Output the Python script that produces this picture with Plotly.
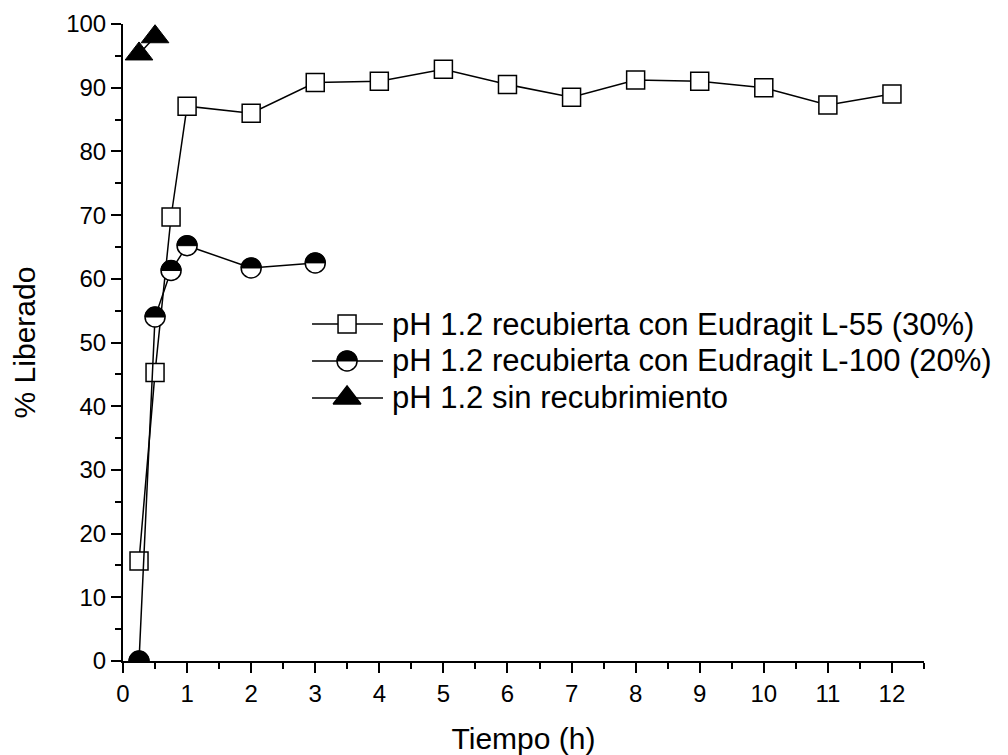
import plotly.graph_objects as go

# ---- data ----
t_l55 = [0.25, 0.5, 0.75, 1, 2, 3, 4, 5, 6, 7, 8, 9, 10, 11, 12]
y_l55 = [15.7, 45.3, 69.7, 87.1, 86.0, 90.8, 91.0, 92.9, 90.5, 88.5, 91.2, 91.0, 90.0, 87.3, 89.0]
t_l100 = [0.25, 0.5, 0.75, 1, 2, 3]
y_l100 = [0.0, 54.0, 61.3, 65.2, 61.7, 62.5]
t_sin = [0.25, 0.5]
y_sin = [95.3, 98.0]

names = ["pH 1.2 recubierta con Eudragit L-55 (30%)",
         "pH 1.2 recubierta con Eudragit L-100 (20%)",
         "pH 1.2 sin recubrimiento"]
x_ticks = list(range(0, 13))
y_ticks = list(range(0, 101, 10))

FONT = "Liberation Sans, Arial, sans-serif"
R = 10  # half-circle radius in px
k = 0.5523
upper_half = (f"M {-R},0 C {-R},{k*R:.2f} {-k*R:.2f},{R} 0,{R} "
              f"C {k*R:.2f},{R} {R},{k*R:.2f} {R},0 Z")

fig = go.Figure()
line = dict(color="black", width=1.5)
fig.add_trace(go.Scatter(x=t_l55, y=y_l55, mode="lines+markers", line=line,
                         marker=dict(symbol="square", size=18, color="white",
                                     line=dict(color="black", width=1.5)),
                         showlegend=False))
fig.add_trace(go.Scatter(x=t_l100, y=y_l100, mode="lines+markers", line=line,
                         marker=dict(symbol="circle", size=20, color="white",
                                     line=dict(color="black", width=1.5)),
                         showlegend=False))
fig.add_trace(go.Scatter(x=t_sin, y=y_sin, mode="lines+markers", line=line,
                         marker=dict(symbol="triangle-up", size=24, color="black",
                                     line=dict(color="black", width=1)),
                         showlegend=False))

shapes = []
for xv, yv in zip(t_l100, y_l100):
    shapes.append(dict(type="path", xref="x", yref="y", xsizemode="pixel", ysizemode="pixel",
                       xanchor=xv, yanchor=yv, path=upper_half,
                       fillcolor="black", line=dict(color="black", width=1)))

# ---- manual legend (on an overlay axis spanning the plot area) ----
leg_y = [0.529, 0.471, 0.413]
leg_x0, leg_x1, leg_xm, leg_tx = 0.236, 0.3246, 0.2797, 0.333
symbols = [("square", 18, "white"), ("circle", 20, "white"), ("triangle-up", 24, "black")]
for (sym, sz, col), ly, nm in zip(symbols, leg_y, names):
    fig.add_trace(go.Scatter(x=[leg_x0, leg_x1], y=[ly, ly], mode="lines", line=line,
                             xaxis="x2", yaxis="y2", showlegend=False, hoverinfo="skip"))
    fig.add_trace(go.Scatter(x=[leg_xm], y=[ly], mode="markers", xaxis="x2", yaxis="y2",
                             marker=dict(symbol=sym, size=sz, color=col,
                                         line=dict(color="black", width=1.5)),
                             showlegend=False, hoverinfo="skip", cliponaxis=False))
    fig.add_annotation(x=leg_tx, y=ly, xref="x2", yref="y2", text=nm, showarrow=False,
                       xanchor="left", yanchor="middle",
                       font=dict(family=FONT, size=31, color="black"))
shapes.append(dict(type="path", xref="x2", yref="y2", xsizemode="pixel", ysizemode="pixel",
                   xanchor=leg_xm, yanchor=leg_y[1], path=upper_half,
                   fillcolor="black", line=dict(color="black", width=1)))

fig.update_layout(
    width=1008, height=755,
    margin=dict(l=123, r=84, t=24, b=94),
    paper_bgcolor="white", plot_bgcolor="white",
    font=dict(family=FONT, color="black"),
    shapes=shapes,
    xaxis=dict(range=[0, 12.5], tickvals=x_ticks, showgrid=False, zeroline=False,
               showline=True, linecolor="black", linewidth=2, automargin=False,
               ticks="outside", ticklen=10, tickwidth=2, tickcolor="black",
               minor=dict(dtick=0.5, ticks="outside", ticklen=6, tickwidth=2, tickcolor="black"),
               tickfont=dict(size=24),
               title=dict(text="Tiempo (h)", font=dict(size=30), standoff=26)),
    yaxis=dict(range=[0, 100], tickvals=y_ticks, showgrid=False, zeroline=False,
               showline=True, linecolor="black", linewidth=2, automargin=False,
               ticks="outside", ticklen=10, tickwidth=2, tickcolor="black",
               minor=dict(dtick=5, ticks="outside", ticklen=6, tickwidth=2, tickcolor="black"),
               tickfont=dict(size=24),
               title=dict(text="% Liberado", font=dict(size=30), standoff=22)),
    xaxis2=dict(range=[0, 1], overlaying="x", visible=False),
    yaxis2=dict(range=[0, 1], overlaying="y", visible=False),
)

fig.write_html("out.html")
